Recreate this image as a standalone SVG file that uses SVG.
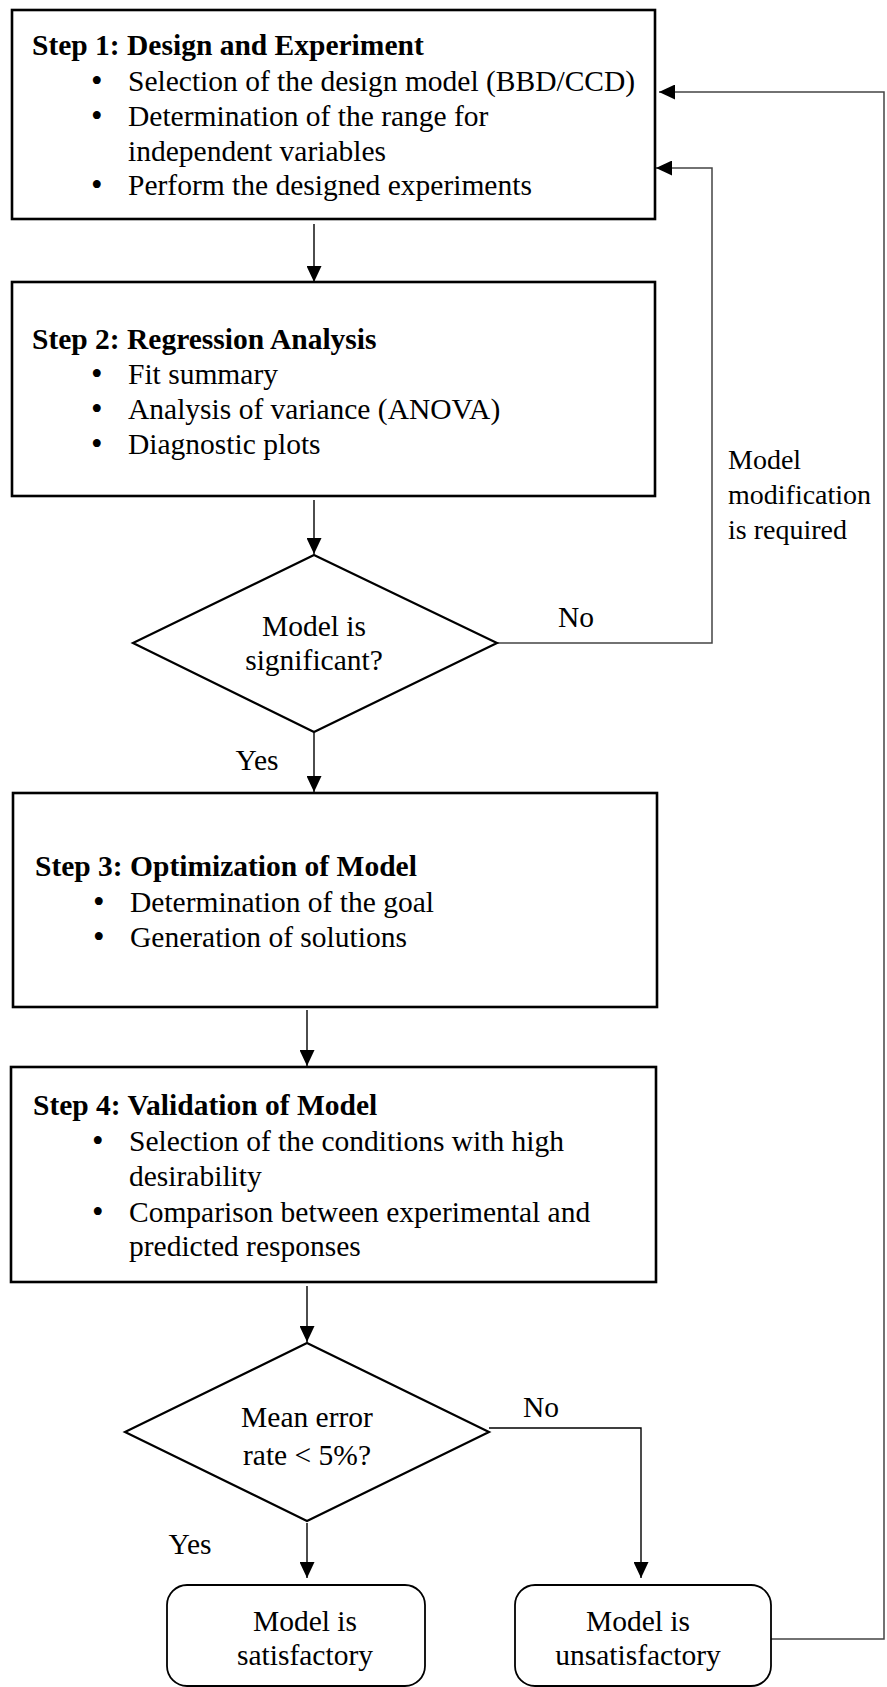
<svg xmlns="http://www.w3.org/2000/svg" width="887" height="1687" viewBox="0 0 887 1687">
<style>
text{font-family:"Liberation Serif","Times New Roman",serif;font-size:29.5px;fill:#000}
.b{font-weight:bold}
.m{text-anchor:middle}
.bu{font-size:33px}
.lbl{font-size:28px}
.box{fill:#fff;stroke:#000;stroke-width:2.6}
.dia{fill:#fff;stroke:#000;stroke-width:2.2}
.rbox{fill:#fff;stroke:#000;stroke-width:1.8}
.con{fill:none;stroke:#000;stroke-width:1.4}
.loop{fill:none;stroke:#444;stroke-width:1.5}
</style>
<defs>
<marker id="ah" markerUnits="userSpaceOnUse" markerWidth="16" markerHeight="15" refX="16" refY="7.5" orient="auto">
<path d="M0,0 L16,7.5 L0,15 z" fill="#000"/>
</marker>
</defs>
<g id="connectors">
<line class="con" x1="314" y1="224" x2="314" y2="282" marker-end="url(#ah)"/>
<line class="con" x1="314" y1="500" x2="314" y2="554" marker-end="url(#ah)"/>
<line class="con" x1="314" y1="733" x2="314" y2="792" marker-end="url(#ah)"/>
<line class="con" x1="307" y1="1010" x2="307" y2="1066" marker-end="url(#ah)"/>
<line class="con" x1="307" y1="1286" x2="307" y2="1342" marker-end="url(#ah)"/>
<line class="con" x1="307" y1="1523" x2="307" y2="1578" marker-end="url(#ah)"/>
<polyline class="con" points="489,1428 641,1428 641,1578" marker-end="url(#ah)"/>
<polyline class="loop" points="497,643 712,643 712,168 656,168" marker-end="url(#ah)"/>
<polyline class="loop" points="771,1639 884,1639 884,92 659,92" marker-end="url(#ah)"/>
<text x="576" y="627" class="m">No</text>
<text x="257" y="770" class="m">Yes</text>
<text x="541" y="1417" class="m">No</text>
<text x="190" y="1554" class="m">Yes</text>
<text x="728" y="469" class="lbl">Model</text>
<text x="728" y="504" class="lbl">modification</text>
<text x="728" y="539" class="lbl">is required</text>
</g>
<g id="step1">
<rect class="box" x="12" y="10" width="643" height="209"/>
<text x="32" y="55" class="b">Step 1: Design and Experiment</text>
<text x="91" y="92" class="bu">•</text><text x="128" y="91">Selection of the design model (BBD/CCD)</text>
<text x="91" y="127" class="bu">•</text><text x="128" y="126">Determination of the range for</text>
<text x="128" y="161">independent variables</text>
<text x="91" y="196" class="bu">•</text><text x="128" y="195">Perform the designed experiments</text>
</g>
<g id="step2">
<rect class="box" x="12" y="282" width="643" height="214"/>
<text x="32" y="349" class="b">Step 2: Regression Analysis</text>
<text x="91" y="385" class="bu">•</text><text x="128" y="384">Fit summary</text>
<text x="91" y="420" class="bu">•</text><text x="128" y="419">Analysis of variance (ANOVA)</text>
<text x="91" y="455" class="bu">•</text><text x="128" y="454">Diagnostic plots</text>
</g>
<g id="decision1">
<polygon class="dia" points="314,555 497,643 314,732 133,643"/>
<text x="314" y="636" class="m">Model is</text>
<text x="314" y="670" class="m">significant?</text>
</g>
<g id="step3">
<rect class="box" x="13" y="793" width="644" height="214"/>
<text x="35" y="876" class="b">Step 3: Optimization of Model</text>
<text x="93" y="913" class="bu">•</text><text x="130" y="912">Determination of the goal</text>
<text x="93" y="948" class="bu">•</text><text x="130" y="947">Generation of solutions</text>
</g>
<g id="step4">
<rect class="box" x="11" y="1067" width="645" height="215"/>
<text x="33" y="1115" class="b">Step 4: Validation of Model</text>
<text x="92" y="1152" class="bu">•</text><text x="129" y="1151">Selection of the conditions with high</text>
<text x="129" y="1186">desirability</text>
<text x="92" y="1223" class="bu">•</text><text x="129" y="1222">Comparison between experimental and</text>
<text x="129" y="1256">predicted responses</text>
</g>
<g id="decision2">
<polygon class="dia" points="307,1343 489,1432 307,1521 125,1432"/>
<text x="307" y="1427" class="m">Mean error</text>
<text x="307" y="1465" class="m">rate &lt; 5%?</text>
</g>
<g id="satisfactory">
<rect class="rbox" x="167" y="1585" width="258" height="101" rx="20" ry="20"/>
<text x="305" y="1631" class="m">Model is</text>
<text x="305" y="1665" class="m">satisfactory</text>
</g>
<g id="unsatisfactory">
<rect class="rbox" x="515" y="1585" width="256" height="101" rx="20" ry="20"/>
<text x="638" y="1631" class="m">Model is</text>
<text x="638" y="1665" class="m">unsatisfactory</text>
</g>
</svg>
